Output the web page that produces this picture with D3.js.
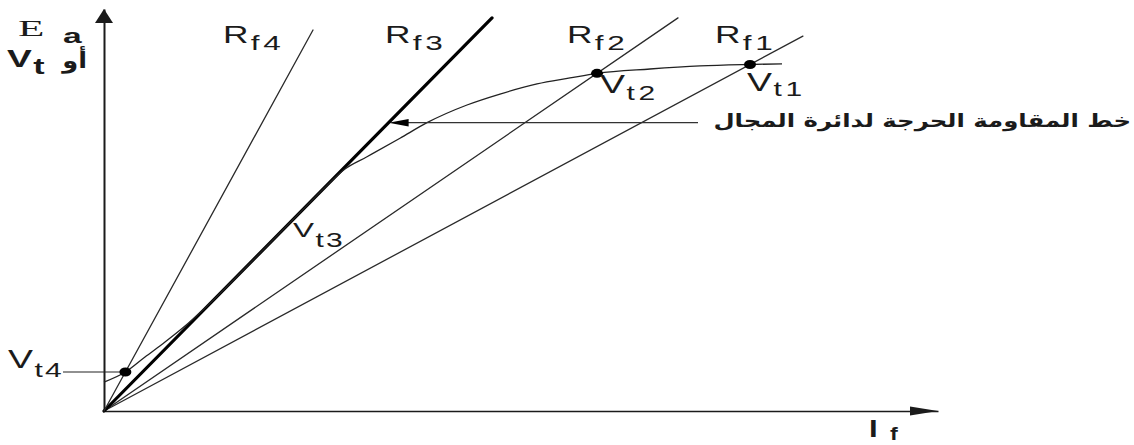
<!DOCTYPE html>
<html>
<head>
<meta charset="utf-8">
<script src="https://cdn.jsdelivr.net/npm/d3@7"></script>
<style>
  html, body { margin: 0; padding: 0; background: #fff; }
  svg { display: block; }
</style>
</head>
<body>
<svg id="chart" width="1134" height="445"></svg>
<script>
// Shunt generator: open-circuit characteristic and field-resistance lines

// field-resistance lines  Ea = Rf * If
const lineNames      = ["f1", "f2", "f3", "f4"];
const lineResistance = [139.1, 177.6, 262.7, 472.7];   // ohm
const lineEndCurrent = [1.676, 1.3765, 0.9305, 0.5012]; // A
const criticalLine   = "f3";

// magnetisation curve (field current A, generated emf V)
const curveIf = [0, 0.0513, 0.0983, 0.1463, 0.2014, 0.2590, 0.3261, 0.3981, 0.4700,
                 0.5300, 0.5779, 0.6307, 0.7098, 0.7746, 0.8705, 0.9496, 1.0384,
                 1.1175, 1.1823, 1.3094, 1.4293, 1.5492, 1.6259];
const curveEa = [18.0, 24.25, 33.6, 42.9, 54.4, 68.2, 85.7, 104.5, 123.4,
                 139.2, 150.5, 158.1, 169.6, 179.3, 190.3, 197.1, 203.4,
                 207.1, 210.0, 212.7, 214.6, 215.5, 215.9];

// operating points (curve meets a resistance line)
const pointNames = ["t1", "t2", "t4"];
const pointLine  = ["f1", "f2", "f4"];
const pointIf    = [1.5492, 1.1823, 0.0513];

const svg = d3.select("#chart");
const x = d3.scaleLinear().domain([0, 2]).range([104, 938]);
const y = d3.scaleLinear().domain([0, 250]).range([411, 9]);

const ink = "#1b1b1b";
const latin = "'Liberation Sans', Arial, sans-serif";
const arabic = "'DejaVu Sans', 'Noto Sans', sans-serif";

// axes (no ticks, arrow at each end)
const gx = svg.append("g").attr("transform", `translate(0,${y(0)})`)
  .call(d3.axisBottom(x).tickValues([]).tickSizeOuter(0));
const gy = svg.append("g").attr("transform", `translate(${x(0)},0)`)
  .call(d3.axisLeft(y).tickValues([]).tickSizeOuter(0));
gx.select(".domain").attr("stroke", ink).attr("stroke-width", 1.6);
gy.select(".domain").attr("stroke", ink).attr("stroke-width", 2);

svg.append("path")
  .attr("d", `M${x(0)},${y(250)} L${x(0) - 9},${y(250) + 14} L${x(0) + 9},${y(250) + 14} Z`)
  .attr("fill", ink);
svg.append("path")
  .attr("d", `M${x(2)},${y(0)} L${x(2) - 28},${y(0) - 4.5} L${x(2) - 28},${y(0) + 4.5} Z`)
  .attr("fill", ink);

// resistance lines
const lines = lineNames.map((n, i) => ({ name: n, r: lineResistance[i], end: lineEndCurrent[i] }));
svg.append("g").selectAll("line").data(lines).join("line")
  .attr("x1", x(0)).attr("y1", y(0))
  .attr("x2", d => x(d.end)).attr("y2", d => y(d.r * d.end))
  .attr("stroke", d => d.name === criticalLine ? "#000" : "#2a2a2a")
  .attr("stroke-width", d => d.name === criticalLine ? 3.2 : 1.3)
  .attr("stroke-linecap", "round");

// magnetisation curve
const curve = curveIf.map((v, i) => [v, curveEa[i]]);
svg.append("path")
  .datum(curve)
  .attr("d", d3.line().x(d => x(d[0])).y(d => y(d[1])).curve(d3.curveMonotoneX))
  .attr("fill", "none").attr("stroke", "#222").attr("stroke-width", 1.3);

// operating points
const rOf = name => lines.find(l => l.name === name).r;
const points = pointNames.map((n, i) => ({ name: n, If: pointIf[i], Ea: rOf(pointLine[i]) * pointIf[i] }));

// reading line from the Vt4 label to its point
const p4 = points.find(p => p.name === "t4");
svg.append("line")
  .attr("x1", 63).attr("y1", y(p4.Ea)).attr("x2", x(p4.If)).attr("y2", y(p4.Ea))
  .attr("stroke", "#222").attr("stroke-width", 1.2);

svg.append("g").selectAll("ellipse").data(points).join("ellipse")
  .attr("cx", d => x(d.If)).attr("cy", d => y(d.Ea))
  .attr("rx", 6).attr("ry", 4.5).attr("fill", "#000");

// pointer to the critical resistance line
const arrowY = 122.7;
const tipIf = y.invert(arrowY) / rOf(criticalLine);
const tipX = x(tipIf);
svg.append("line")
  .attr("x1", 698).attr("y1", arrowY).attr("x2", tipX + 18).attr("y2", arrowY)
  .attr("stroke", "#333").attr("stroke-width", 1.2);
svg.append("path")
  .attr("d", `M${tipX},${arrowY} L${tipX + 20},${arrowY - 3.8} L${tipX + 20},${arrowY + 3.8} Z`)
  .attr("fill", "#000");

// text helpers
function subLabel(px, py, main, sub, o) {
  const t = svg.append("text")
    .attr("transform", `translate(${px},${py}) scale(${o.sx},1)`)
    .attr("font-family", latin).attr("font-size", o.size)
    .attr("font-weight", o.weight || "normal").attr("fill", ink);
  t.append("tspan").text(main);
  t.append("tspan").attr("font-size", o.subSize).attr("dy", o.dy).attr("dx", o.dx || 1)
    .attr("letter-spacing", o.ls || 0).text(sub);
  return t;
}
function fitText(txt, right, base, width, size, weight) {
  const t = svg.append("text")
    .attr("font-family", arabic).attr("font-size", size).attr("font-weight", weight)
    .attr("fill", ink).attr("direction", "rtl").attr("text-anchor", "start")
    .text(txt);
  const w = t.node().getBBox().width;
  t.attr("transform", `translate(${right},${base}) scale(${width / w},1)`);
  return t;
}

// resistance-line labels
const rfOpts = { sx: 1.5, size: 23.5, subSize: 21, dy: 7, dx: 1.5, ls: 2.5 };
subLabel(223, 43, "R", "f4", rfOpts);
subLabel(385, 43, "R", "f3", rfOpts);
subLabel(567, 43, "R", "f2", rfOpts);
subLabel(715, 43, "R", "f1", rfOpts);

// terminal-voltage labels
subLabel(600, 93, "V", "t2", { sx: 1.5, size: 25, subSize: 20, dy: 7, dx: 1, ls: 2.5 });
subLabel(747, 91, "V", "t1", { sx: 1.5, size: 25, subSize: 20, dy: 5, dx: 1, ls: 2.5 });
subLabel(293, 237, "V", "t3", { sx: 1.5, size: 21, subSize: 20, dy: 10, dx: 1, ls: 1.5 });
subLabel(8, 368, "V", "t4", { sx: 1.5, size: 25, subSize: 20, dy: 9, dx: 1, ls: 1.5 });

// axis titles
svg.append("text").attr("transform", "translate(18,36) scale(1.8,1)")
  .attr("font-family", "'Liberation Serif', 'Times New Roman', serif")
  .attr("font-size", 24).attr("fill", ink).text("E");
svg.append("text").attr("transform", "translate(63,43) scale(1.6,1)")
  .attr("font-family", latin).attr("font-weight", "bold")
  .attr("font-size", 21).attr("fill", ink).text("a");
subLabel(7, 67, "V", "t", { sx: 1.55, size: 24, subSize: 22, dy: 7, dx: 1, weight: "bold" });
fitText("أو", 87, 68, 26, 22, "bold");

svg.append("text").attr("transform", "translate(869,437) scale(1.3,1)")
  .attr("font-family", latin).attr("font-weight", "bold")
  .attr("font-size", 24).attr("fill", ink).text("I");
svg.append("text").attr("transform", "translate(890,440) scale(1.3,1)")
  .attr("font-family", latin).attr("font-weight", "bold")
  .attr("font-size", 18).attr("fill", ink).text("f");

// annotation for the critical line
fitText("خط المقاومة الحرجة لدائرة المجال", 1131, 127, 418, 18.5, "bold");
</script>
</body>
</html>
